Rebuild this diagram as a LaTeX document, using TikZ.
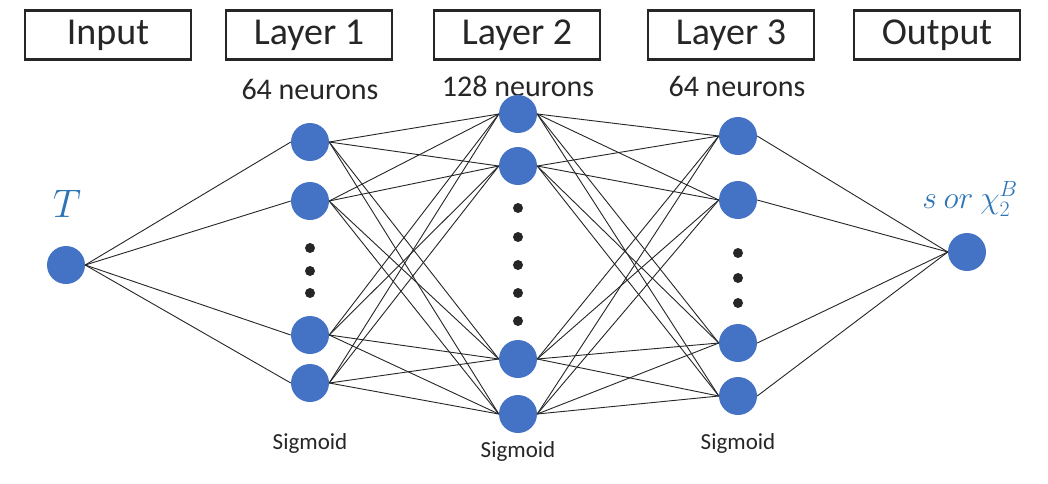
\documentclass[tikz,border=0pt]{standalone}
\usepackage{fontspec}
\setmainfont{Carlito}
\definecolor{neuron}{HTML}{4472C4}
\definecolor{labelblue}{HTML}{2E75B6}
\definecolor{ink}{HTML}{262626}
\begin{document}
\begin{tikzpicture}[x=1pt,y=-1pt,
  header/.style={draw=ink, line width=2.8pt, minimum width=166pt, minimum height=49pt, inner sep=0pt, text=ink, font=\fontsize{38}{38}\selectfont},
  unit/.style={circle, fill=neuron, minimum size=38pt, inner sep=0pt},
  dot/.style={circle, fill=black!85, minimum size=10pt, inner sep=0pt},
  count/.style={text=ink, font=\fontsize{30}{30}\selectfont},
  act/.style={text=ink, font=\fontsize{23}{23}\selectfont},
  mathlabel/.style={text=labelblue, font=\fontsize{24}{24}\selectfont},
  link/.style={line width=0.9pt, black!85}]
\useasboundingbox (0,0) rectangle (1048,483);
\fill[white] (0,0) rectangle (1048,483);

% column headers
\node[header] (hin)  at (108,35) {Input};
\node[header] (h1)   at (309,35) {Layer 1};
\node[header] (h2)   at (517,35) {Layer 2};
\node[header] (h3)   at (731,35) {Layer 3};
\node[header] (hout) at (937,35) {Output};

% neuron counts
\node[count, anchor=base] (c1) at (310,99) {64 neurons};
\node[count, anchor=base] (c2) at (518,96) {128 neurons};
\node[count, anchor=base] (c3) at (737,96) {64 neurons};

% input and output units
\node[unit] (x)  at (66,265) {};
\node[unit] (y)  at (967,252) {};
\node[mathlabel, scale=1.6] (xl) at (67,204) {$T$};
\node[mathlabel, scale=1.27] (yl) at (970,199) {$s\ or\ \chi_2^B$};

% layer 1
\node[unit] (a1) at (310,142) {};
\node[unit] (a2) at (310,201) {};
\node[unit] (a3) at (310,335) {};
\node[unit] (a4) at (310,383) {};
\node[dot] (ad1) at (310,248) {};
\node[dot] (ad2) at (310,271) {};
\node[dot] (ad3) at (310,293) {};

% layer 2
\node[unit] (b1) at (518,114) {};
\node[unit] (b2) at (518,166) {};
\node[unit] (b3) at (518,359) {};
\node[unit] (b4) at (518,414) {};
\node[dot] (bd1) at (518,208) {};
\node[dot] (bd2) at (518,237) {};
\node[dot] (bd3) at (518,265) {};
\node[dot] (bd4) at (518,293) {};
\node[dot] (bd5) at (518,321) {};

% layer 3
\node[unit] (d1) at (738,136) {};
\node[unit] (d2) at (738,200) {};
\node[unit] (d3) at (738,343) {};
\node[unit] (d4) at (738,396) {};
\node[dot] (dd1) at (738,253) {};
\node[dot] (dd2) at (738,278) {};
\node[dot] (dd3) at (738,303) {};

% activation labels
\node[act] (s1) at (310,443) {Sigmoid};
\node[act] (s2) at (518,451) {Sigmoid};
\node[act] (s3) at (738,443) {Sigmoid};

% dense connections
\foreach \j in {1,...,4} \draw[link] (x.east) -- (a\j.west);
\foreach \i in {1,...,4} \foreach \j in {1,...,4} \draw[link] (a\i.east) -- (b\j.west);
\foreach \i in {1,...,4} \foreach \j in {1,...,4} \draw[link] (b\i.east) -- (d\j.west);
\foreach \i in {1,...,4} \draw[link] (d\i.east) -- (y.west);
\end{tikzpicture}
\end{document}
